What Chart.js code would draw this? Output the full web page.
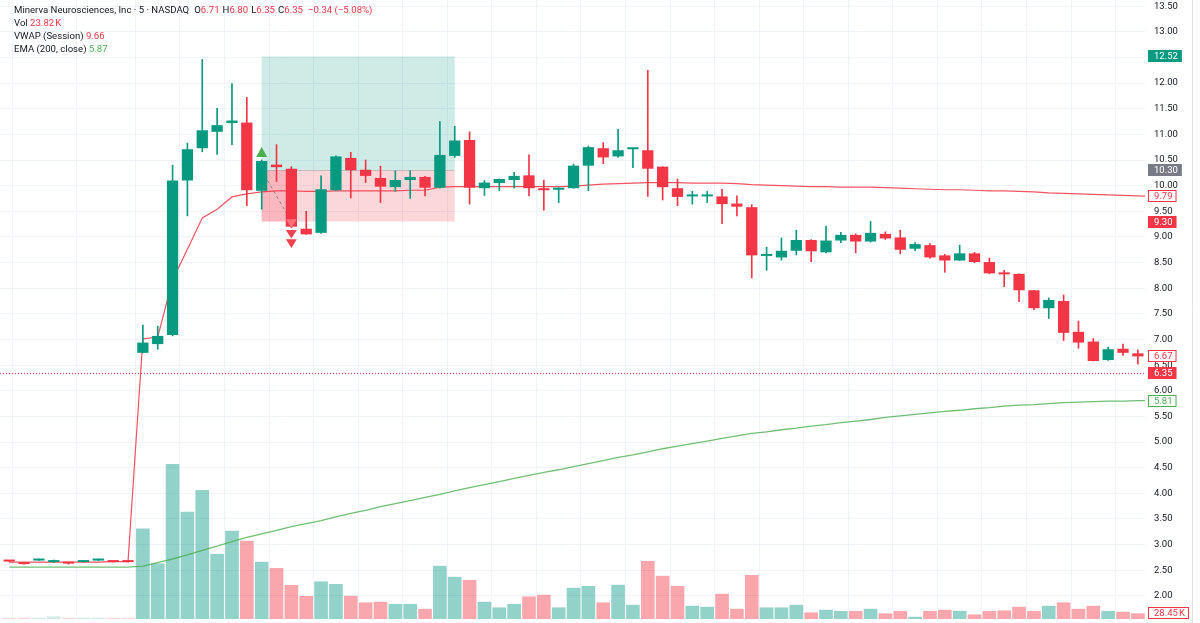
<!DOCTYPE html>
<html>
<head>
<meta charset="utf-8">
<script src="https://cdn.jsdelivr.net/npm/chart.js@4.4.0/dist/chart.umd.min.js"></script>
<style>
  html, body { margin: 0; padding: 0; background: #fff; overflow: hidden; }
  #wrap { position: relative; width: 1200px; height: 623px; }
  #legend { position: absolute; left: 14px; top: 3px; font: 9.6px Roboto, sans-serif; color: #131722; line-height: 13px; white-space: nowrap; }
  #legend .k { margin-left: 3px; }
  #legend .first { margin-left: 5px; }
  #legend .chg { margin-left: 5px; }
  .r { color: #f23645; }
  .g { color: #4caf50; }
</style>
</head>
<body>
<div id="wrap">
  <canvas id="myChart" width="1200" height="623"></canvas>
  <div id="legend">
    <div>Minerva Neurosciences, Inc · 5 · NASDAQ<span class="first">O</span><span class="r">6.71</span><span class="k">H</span><span class="r">6.80</span><span class="k">L</span><span class="r">6.35</span><span class="k">C</span><span class="r">6.35</span><span class="r chg">&minus;0.34 (&minus;5.08%)</span></div>
    <div>Vol <span class="r">23.82&#8239;K</span></div>
    <div>VWAP (Session) <span class="r">9.66</span></div>
    <div>EMA (200, close) <span class="g">5.87</span></div>
  </div>
</div>
<script>
// 5 minute bars, first 9 are pre-market, the last one is the live bar
// that sits under the price scale
const preMarketBars = 9;

const opens = [
  2.68, 2.65, 2.69, 2.66, 2.65, 2.66, 2.69, 2.68, 2.68,
  6.74, 6.91, 7.09, 10.10, 10.73, 11.05, 11.22, 11.23, 9.90, 10.41, 10.33, 9.16, 9.08, 9.91, 10.54, 10.31, 10.15,
  9.97, 10.11, 10.17, 9.96, 10.58, 10.89, 9.95, 10.05, 10.11, 10.20, 9.95, 9.92, 9.95, 10.39, 10.73, 10.57, 10.71,
  10.69, 10.37, 9.95, 9.79, 9.79, 9.79, 9.65, 9.58, 8.63, 8.60, 8.73, 8.94, 8.70, 8.93, 9.04, 8.91, 9.06, 8.99,
  8.77, 8.84, 8.64, 8.54, 8.68, 8.51, 8.30, 8.28, 7.96, 7.61, 7.75, 7.15, 6.96, 6.60, 6.82, 6.73, 6.71
];
const highs = [
  2.68, 2.65, 2.72, 2.70, 2.65, 2.68, 2.72, 2.68, 2.68,
  7.28, 7.26, 10.40, 10.83, 12.46, 11.51, 11.99, 11.72, 10.50, 10.80, 10.37, 9.50, 10.19, 10.58, 10.65, 10.50, 10.38,
  10.29, 10.29, 10.18, 11.25, 11.16, 11.05, 10.10, 10.13, 10.26, 10.60, 10.11, 9.96, 10.42, 10.77, 10.84, 11.10, 10.73,
  12.25, 10.37, 10.13, 9.89, 9.89, 9.93, 9.80, 9.63, 8.80, 8.98, 9.13, 8.95, 9.21, 9.09, 9.06, 9.30, 9.10, 9.13,
  8.89, 8.87, 8.66, 8.84, 8.70, 8.59, 8.35, 8.28, 7.96, 7.81, 7.87, 7.36, 7.02, 6.85, 6.91, 6.80, 6.80
];
const lows = [
  2.67, 2.62, 2.69, 2.65, 2.62, 2.66, 2.69, 2.66, 2.66,
  6.74, 6.81, 7.07, 9.41, 10.66, 10.61, 10.80, 9.61, 9.54, 10.08, 9.18, 9.05, 9.07, 9.90, 9.76, 10.06, 9.67,
  9.89, 9.75, 9.80, 9.95, 10.55, 9.64, 9.81, 9.90, 9.95, 9.80, 9.52, 9.67, 9.95, 9.90, 10.43, 10.55, 10.35,
  9.79, 9.72, 9.61, 9.64, 9.67, 9.26, 9.41, 8.20, 8.35, 8.55, 8.65, 8.52, 8.69, 8.89, 8.69, 8.90, 8.95, 8.67,
  8.73, 8.58, 8.31, 8.54, 8.50, 8.28, 8.03, 7.74, 7.58, 7.41, 6.98, 6.83, 6.58, 6.59, 6.69, 6.52, 6.35
];
const closes = [
  2.67, 2.62, 2.72, 2.68, 2.63, 2.68, 2.72, 2.66, 2.66,
  6.94, 7.07, 10.10, 10.71, 11.08, 11.18, 11.27, 9.91, 10.48, 10.36, 9.20, 9.05, 9.93, 10.57, 10.30, 10.19, 9.98,
  10.11, 10.17, 9.96, 10.60, 10.88, 9.96, 10.06, 10.13, 10.19, 9.95, 9.91, 9.96, 10.39, 10.75, 10.55, 10.69, 10.73,
  10.33, 9.97, 9.78, 9.80, 9.82, 9.64, 9.59, 8.64, 8.64, 8.73, 8.94, 8.72, 8.93, 9.04, 8.91, 9.08, 8.97, 8.75,
  8.86, 8.60, 8.54, 8.68, 8.51, 8.29, 8.27, 7.96, 7.61, 7.77, 7.13, 6.94, 6.58, 6.81, 6.74, 6.67, 6.35
];
// volume in thousands
const volumes = [
  6, 6, 6, 13, 6, 6, 6, 6, 6,
  453, 278, 775, 536, 645, 325, 441, 391, 286, 255, 170, 115, 188, 175, 116, 83, 86,
  75, 75, 51, 266, 211, 195, 86, 58, 75, 113, 121, 58, 156, 165, 83, 171, 71,
  290, 216, 165, 66, 61, 126, 51, 220, 58, 58, 71, 33, 46, 40, 40, 51, 28, 40,
  11, 40, 46, 41, 23, 40, 43, 61, 40, 66, 83, 51, 66, 40, 36, 28.45, 23.82
];
const vwap = [
  2.66, 2.66, 2.66, 2.66, 2.66, 2.66, 2.66, 2.67, 2.67,
  7.01, 7.05, 8.16, 8.76, 9.37, 9.54, 9.78, 9.84, 9.88, 9.90, 9.90, 9.89, 9.89, 9.90, 9.90, 9.90, 9.90,
  9.90, 9.91, 9.91, 9.97, 9.98, 9.98, 9.98, 9.98, 9.98, 9.98, 9.98, 9.98, 9.99, 10.01, 10.03, 10.04, 10.05,
  10.06, 10.06, 10.06, 10.05, 10.05, 10.05, 10.04, 10.02, 10.01, 10.00, 9.99, 9.98, 9.98, 9.97, 9.97, 9.97, 9.96, 9.95,
  9.94, 9.93, 9.92, 9.92, 9.91, 9.90, 9.90, 9.89, 9.88, 9.86, 9.85, 9.84, 9.83, 9.82, 9.81, 9.80, 9.79
];
const ema = [
  2.56, 2.56, 2.56, 2.56, 2.56, 2.56, 2.56, 2.56, 2.56,
  2.58, 2.65, 2.72, 2.80, 2.89, 2.97, 3.06, 3.14, 3.21, 3.28, 3.35, 3.41, 3.47, 3.54, 3.61, 3.67, 3.74,
  3.80, 3.86, 3.92, 3.98, 4.05, 4.11, 4.17, 4.23, 4.29, 4.35, 4.41, 4.46, 4.52, 4.58, 4.64, 4.70, 4.75,
  4.81, 4.87, 4.92, 4.97, 5.02, 5.07, 5.12, 5.17, 5.20, 5.24, 5.27, 5.31, 5.34, 5.38, 5.41, 5.44, 5.48, 5.51,
  5.54, 5.57, 5.60, 5.62, 5.65, 5.67, 5.70, 5.72, 5.73, 5.75, 5.77, 5.78, 5.79, 5.80, 5.80, 5.81, 5.81
];

// long position drawing
const tradeEntry = 10.30;
const tradeTarget = 12.52;
const tradeStop = 9.30;
const entryBar = 17;
const exitBar = 19;
const endBar = 30;
const lastPrice = 6.35;

// price scale tags
const tagValues = [12.52, 10.30, 9.79, 9.30, 6.67, 6.35, 5.81];
const tagKinds = ["target", "entry", "vwap", "stop", "close", "last", "ema"];

const GREEN = "#089981";
const RED = "#f23645";
const FONT = "Roboto, sans-serif";

const labels = opens.map((o, i) => i);
const lastVisible = labels.length - 2;
const isUp = closes.map((c, i) => c >= opens[i]);
const candleColors = isUp.map((up) => (up ? GREEN : RED));
const volColors = isUp.map((up, i) => {
  const a = i < preMarketBars ? 0.2 : 0.44;
  return up ? `rgba(8,153,129,${a})` : `rgba(242,54,69,${a})`;
});
const bodies = opens.map((o, i) => [o, closes[i]]);
const wicks = lows.map((l, i) => [l, highs[i]]);

const tagStyles = {
  target: { fill: GREEN, text: "#fff" },
  entry: { fill: "#787b86", text: "#fff" },
  stop: { fill: RED, text: "#fff" },
  last: { fill: RED, text: "#fff" },
  vwap: { fill: "#fff", stroke: RED, text: RED },
  close: { fill: "#fff", stroke: RED, text: RED },
  ema: { fill: "#fff", stroke: "#4caf50", text: "#4caf50" },
};

function triangle(ctx, cx, yBase, yTip, half) {
  ctx.beginPath();
  ctx.moveTo(cx - half, yBase);
  ctx.lineTo(cx + half, yBase);
  ctx.lineTo(cx, yTip);
  ctx.closePath();
  ctx.fill();
}

function drawTag(ctx, left, yy, text, st) {
  const w = ctx.measureText(text).width + 10;
  ctx.fillStyle = st.fill;
  ctx.fillRect(left, yy - 6, w, 12);
  if (st.stroke) {
    ctx.strokeStyle = st.stroke;
    ctx.lineWidth = 1;
    ctx.strokeRect(left + 0.5, yy - 5.5, w - 1, 11);
  }
  ctx.fillStyle = st.text;
  ctx.fillText(text, left + 6, yy + 0.5);
}

const positionTool = {
  id: "positionTool",
  beforeDatasetsDraw(chart) {
    const { ctx, chartArea, scales: { x, y } } = chart;
    const x0 = x.getPixelForValue(entryBar);
    const x1 = x.getPixelForValue(endBar);
    const xe = x.getPixelForValue(exitBar);
    const yT = y.getPixelForValue(tradeTarget);
    const yE = y.getPixelForValue(tradeEntry);
    const yS = y.getPixelForValue(tradeStop);
    ctx.save();
    ctx.fillStyle = "rgba(8,153,129,0.2)";
    ctx.fillRect(x0, yT, x1 - x0, yE - yT);
    ctx.fillStyle = "rgba(242,54,69,0.2)";
    ctx.fillRect(x0, yE, x1 - x0, yS - yE);
    ctx.fillRect(x0, yE, xe - x0, yS - yE);
    ctx.strokeStyle = "rgba(120,123,134,0.35)";
    ctx.lineWidth = 1;
    ctx.beginPath();
    ctx.moveTo(x0, Math.round(yE) + 0.5);
    ctx.lineTo(x1, Math.round(yE) + 0.5);
    ctx.stroke();
    // trade path
    ctx.strokeStyle = "rgba(120,123,134,0.9)";
    ctx.setLineDash([3, 3]);
    ctx.beginPath();
    ctx.moveTo(x0, yE);
    ctx.lineTo(xe, yS);
    ctx.stroke();
    // last price line
    const yl = Math.round(y.getPixelForValue(lastPrice)) + 0.5;
    ctx.strokeStyle = RED;
    ctx.setLineDash([1, 2]);
    ctx.beginPath();
    ctx.moveTo(0, yl);
    ctx.lineTo(chartArea.right, yl);
    ctx.stroke();
    ctx.restore();
  },
  afterDatasetsDraw(chart) {
    const { ctx, scales: { x, y } } = chart;
    ctx.save();
    const xa = x.getPixelForValue(entryBar);
    const yh = y.getPixelForValue(highs[entryBar]);
    ctx.fillStyle = "#4caf50";
    triangle(ctx, xa, yh - 3, yh - 13, 5.5);
    const xb = x.getPixelForValue(exitBar);
    const ylo = y.getPixelForValue(lows[exitBar]);
    ctx.fillStyle = "#f8727c";
    triangle(ctx, xb, ylo - 8.5, ylo, 5.5);
    ctx.fillStyle = "#f1434f";
    triangle(ctx, xb, ylo + 2.3, ylo + 10.8, 5.5);
    triangle(ctx, xb, ylo + 11.6, ylo + 20.4, 5.5);
    ctx.restore();
  },
  afterDraw(chart) {
    const { ctx, chartArea, scales: { y, yVol } } = chart;
    ctx.save();
    ctx.font = "9.5px " + FONT;
    ctx.textBaseline = "middle";
    const left = chartArea.right + 3;
    tagValues.forEach((v, i) => {
      drawTag(ctx, left, Math.round(y.getPixelForValue(v)), v.toFixed(2), tagStyles[tagKinds[i]]);
    });
    const vol = volumes[lastVisible];
    const yv = Math.min(Math.round(yVol.getPixelForValue(vol)), chartArea.bottom - 6);
    drawTag(ctx, left, yv, vol.toFixed(2) + "\u202fK", tagStyles.close);
    // price scale outer border
    ctx.strokeStyle = "#e0e3eb";
    ctx.beginPath();
    ctx.moveTo(1192.5, 0);
    ctx.lineTo(1192.5, chart.height);
    ctx.stroke();
    ctx.restore();
  },
};

const ctx = document.getElementById("myChart");

const myChart = new Chart(ctx, {
  type: "bar",
  data: {
    labels: labels,
    datasets: [
      {
        type: "line",
        label: "VWAP",
        data: vwap,
        borderColor: "rgba(242,54,69,0.85)",
        borderWidth: 1.2,
        pointRadius: 0,
        yAxisID: "y",
        order: 3,
      },
      {
        type: "line",
        label: "EMA",
        data: ema,
        borderColor: "rgba(76,175,80,0.8)",
        borderWidth: 1.3,
        pointRadius: 0,
        yAxisID: "y",
        order: 4,
      },
      {
        label: "Body",
        data: bodies,
        backgroundColor: candleColors,
        barPercentage: 0.76,
        categoryPercentage: 1,
        grouped: false,
        minBarLength: 2,
        yAxisID: "y",
        order: 1,
      },
      {
        label: "Wick",
        data: wicks,
        backgroundColor: candleColors,
        barThickness: 1,
        grouped: false,
        yAxisID: "y",
        order: 2,
      },
      {
        label: "Volume",
        data: volumes,
        backgroundColor: volColors,
        barPercentage: 0.92,
        categoryPercentage: 1,
        grouped: false,
        yAxisID: "yVol",
        order: 6,
      },
    ],
  },
  options: {
    responsive: false,
    animation: false,
    devicePixelRatio: 1,
    layout: { padding: { left: 0, right: 0, top: 0, bottom: 4 } },
    plugins: {
      legend: { display: false },
      tooltip: { enabled: false },
    },
    scales: {
      x: {
        type: "linear",
        min: -0.62,
        max: 76.48,
        offset: false,
        ticks: { display: false, stepSize: 1, autoSkip: false },
        grid: {
          drawTicks: false,
          color: (c) => {
            const i = c.tick ? c.tick.value : -1;
            return i === 1 || i === 5 || (i >= preMarketBars && (i - preMarketBars) % 3 === 0)
              ? "#f0f3fa"
              : "rgba(0,0,0,0)";
          },
        },
        border: { display: false },
      },
      y: {
        position: "right",
        min: 1.55,
        max: 13.62,
        ticks: {
          stepSize: 0.5,
          includeBounds: false,
          padding: 9,
          crossAlign: "near",
          color: "#131722",
          font: { family: FONT, size: 9.5 },
          callback: (v) => v.toFixed(2),
        },
        grid: { color: "#f0f3fa", drawTicks: false },
        border: { display: false },
        afterFit: (s) => {
          s.width = 55;
          s.paddingTop = 0;
          s.paddingBottom = 0;
        },
      },
      yVol: {
        display: false,
        min: 0,
        max: 3095,
      },
    },
  },
  plugins: [positionTool],
});
</script>
</body>
</html>
